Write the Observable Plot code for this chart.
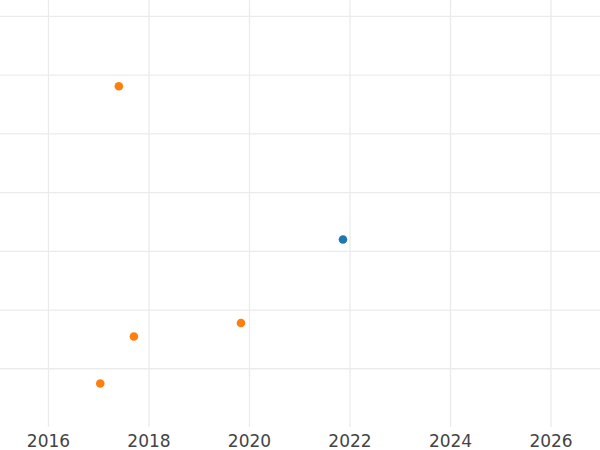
<!DOCTYPE html>
<html>
<head>
<meta charset="utf-8">
<script src="https://cdn.jsdelivr.net/npm/d3@7"></script>
<script src="https://cdn.jsdelivr.net/npm/@observablehq/plot@0.6"></script>
<style>
  html, body { margin: 0; padding: 0; background: #fff; }
  svg { display: block; }
</style>
</head>
<body>
<div id="chart"></div>
<script>
// Data
const years  = [2017.03, 2017.70, 2019.83, 2017.40, 2021.86];
const values = [0.75, 1.55, 1.78, 5.81, 3.20];
const groups = ["B", "B", "B", "B", "A"];
const groupNames = ["A", "B"];
const groupColors = ["#1f77b4", "#ff7f0e"];
const xTicks = [2016, 2018, 2020, 2022, 2024, 2026];
const yTicks = [1, 2, 3, 4, 5, 6, 7];

const data = years.map((x, i) => ({x, y: values[i], g: groups[i]}));

const chart = Plot.plot({
  width: 600,
  height: 450,
  marginTop: 0,
  marginBottom: 23,
  marginLeft: 0,
  marginRight: 0,
  style: {fontFamily: "DejaVu Sans", fontSize: "17px", background: "#fff"},
  x: {domain: [2015.045, 2026.985], ticks: xTicks, tickFormat: d3.format("d"), label: null},
  y: {domain: [0, 7.27], axis: null},
  color: {domain: groupNames, range: groupColors},
  marks: [
    Plot.gridX(xTicks, {stroke: "#ebebeb", strokeOpacity: 1, strokeWidth: 1.3}),
    Plot.gridY(yTicks, {stroke: "#ebebeb", strokeOpacity: 1, strokeWidth: 1.3}),
    Plot.axisX(xTicks, {tickSize: 0, tickPadding: 7, tickFormat: d3.format("d"), fill: "#444", fontSize: 17, label: null}),
    Plot.dot(data, {x: "x", y: "y", fill: "g", r: 4.3, stroke: null})
  ]
});
document.getElementById("chart").append(chart);
</script>
</body>
</html>
